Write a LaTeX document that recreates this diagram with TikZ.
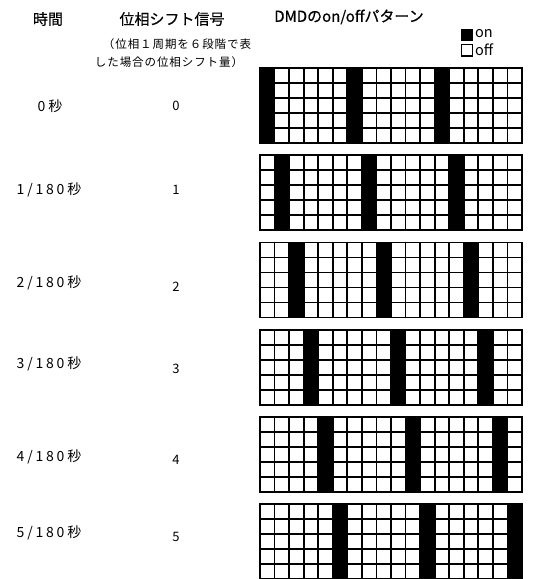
\documentclass[tikz,border=0pt]{standalone}
\usepackage{fontspec}
\setmainfont{Noto Sans CJK JP}
\newfontfamily\lblfont[LetterSpace=20]{Noto Sans CJK JP}
\newfontfamily\subfont[LetterSpace=8]{Noto Sans CJK JP}
\newfontfamily\headfont[FakeBold=0.6]{Noto Sans CJK JP}
\tikzset{
  head/.style={inner sep=0pt, font=\headfont\fontsize{15}{18}\selectfont},
  sub/.style={inner sep=0pt, font=\subfont\fontsize{11.5}{14}\selectfont},
  timelbl/.style={inner sep=0pt, font=\lblfont\fontsize{14}{16}\selectfont},
  numlbl/.style={inner sep=0pt, font=\fontsize{13}{16}\selectfont},
  legtxt/.style={inner sep=0pt, anchor=west, font=\fontsize{14.5}{16}\selectfont},
  gridline/.style={line width=1.8pt, line cap=rect},
  onbox/.style={fill=black},
}
\begin{document}
\begin{tikzpicture}[x=1pt,y=-1pt]
\useasboundingbox (0,0) rectangle (536,579);
% headers
\node[head] (h1) at (48,19) {時間};
\node[head] (h2) at (172,19) {位相シフト信号};
\node[head] (h3) at (349,17) {DMDのon/offパターン};
\node[sub] (s1) at (177,44) {（位相１周期を６段階で表};
\node[sub] (s2) at (169,62) {した場合の位相シフト量）};
% legend
\fill[onbox] (461,29) rectangle (473,41);
\draw[line width=1.2pt] (461.6,44.6) rectangle (472.6,56);
\node[legtxt] (lon) at (475,34) {on};
\node[legtxt] (loff) at (475,50) {off};
% row labels
\node[timelbl] (t0) at (50,106) {0秒};
\node[timelbl] (t1) at (49,190) {1/180秒};
\node[timelbl] (t2) at (49,283) {2/180秒};
\node[timelbl] (t3) at (49,364) {3/180秒};
\node[timelbl] (t4) at (49,457) {4/180秒};
\node[timelbl] (t5) at (49,533) {5/180秒};
\node[numlbl] (n0) at (176,106) {0};
\node[numlbl] (n1) at (176,190) {1};
\node[numlbl] (n2) at (176,287) {2};
\node[numlbl] (n3) at (176,369) {3};
\node[numlbl] (n4) at (176,460) {4};
\node[numlbl] (n5) at (176,537) {5};
% DMD patterns
\foreach \s in {0,...,5}{
  \pgfmathsetmacro\gtop{68+87.2*\s}
  \begin{scope}[shift={(260,\gtop)}]
    \foreach \c in {0,...,17}{
      \pgfmathtruncatemacro\m{mod(\c,6)}
      \ifnum\m=\s
        \fill[onbox] ({14.556*\c},0) rectangle ({14.556*(\c+1)},75);
      \fi
    }
    \foreach \c in {0,...,18}{
      \draw[gridline] ({14.556*\c},0) -- ({14.556*\c},75);
    }
    \foreach \r in {0,...,5}{
      \draw[gridline] (0,{15*\r}) -- (262,{15*\r});
    }
  \end{scope}
}
\end{tikzpicture}
\end{document}
